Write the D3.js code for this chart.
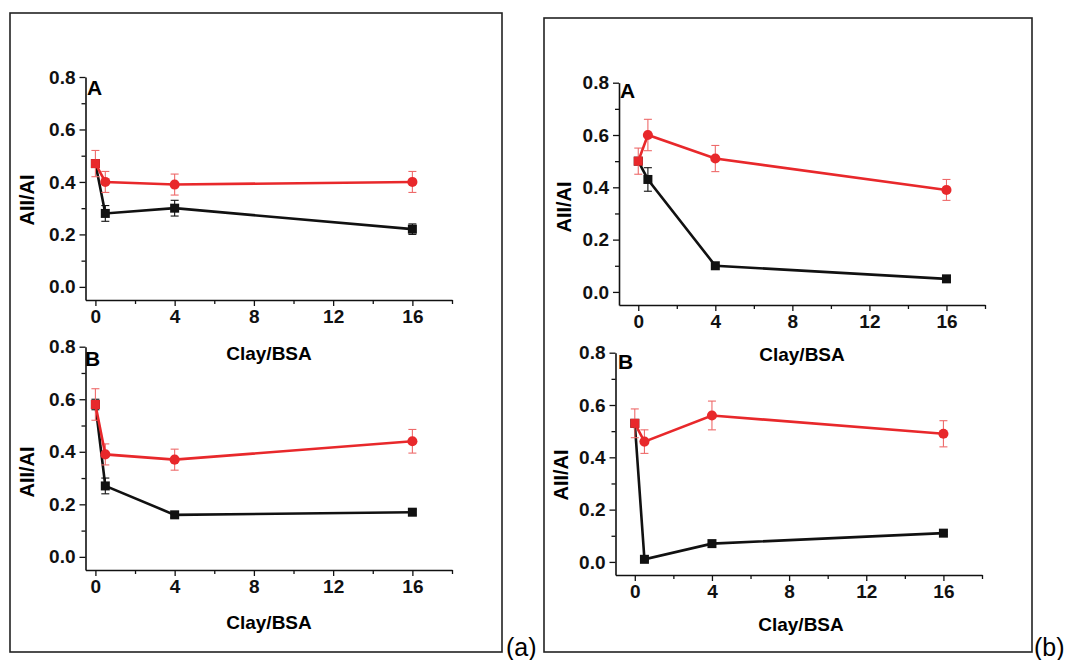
<!DOCTYPE html>
<html>
<head>
<meta charset="utf-8">
<script src="https://cdn.jsdelivr.net/npm/d3@7"></script>
<style>
  html, body { margin: 0; padding: 0; background: #fff; }
  svg text { font-family: "Liberation Sans", Arial, sans-serif; }
</style>
</head>
<body>
<svg id="chart" width="1069" height="660"></svg>
<script>
// Clay/BSA ratios
var ratios = [0, 0.5, 4, 16];

// (a) panel A
var aA_black = [0.47, 0.28, 0.30, 0.22];
var aA_black_err = [0.01, 0.03, 0.03, 0.02];
var aA_red = [0.47, 0.40, 0.39, 0.40];
var aA_red_err = [0.05, 0.04, 0.04, 0.04];

// (a) panel B
var aB_black = [0.58, 0.27, 0.16, 0.17];
var aB_black_err = [0.02, 0.03, 0.01, 0.01];
var aB_red = [0.58, 0.39, 0.37, 0.44];
var aB_red_err = [0.06, 0.04, 0.04, 0.045];

// (b) panel A
var bA_black = [0.50, 0.43, 0.10, 0.05];
var bA_black_err = [0.01, 0.045, 0.005, 0.005];
var bA_red = [0.50, 0.60, 0.51, 0.39];
var bA_red_err = [0.05, 0.06, 0.05, 0.04];

// (b) panel B
var bB_black = [0.53, 0.01, 0.07, 0.11];
var bB_black_err = [0.01, 0.005, 0.005, 0.005];
var bB_red = [0.53, 0.46, 0.56, 0.49];
var bB_red_err = [0.055, 0.045, 0.055, 0.05];

var xTicks = [0, 4, 8, 12, 16];
var xMinor = [2, 6, 10, 14, 18];
var yTicks = [0.0, 0.2, 0.4, 0.6, 0.8];
var yMinor = [0.1, 0.3, 0.5, 0.7];

var RED = "#e8282b";
var RED_ERR = "#ee6a6a";

var svg = d3.select("#chart");

// outer frames
svg.append("rect")
    .attr("x", 10).attr("y", 13)
    .attr("width", 492).attr("height", 639)
    .attr("fill", "none").attr("stroke", "#222").attr("stroke-width", 1.6);
svg.append("rect")
    .attr("x", 544).attr("y", 18)
    .attr("width", 488).attr("height", 634)
    .attr("fill", "none").attr("stroke", "#222").attr("stroke-width", 1.6);

svg.append("text").attr("x", 506).attr("y", 656)
    .attr("font-size", 25).text("(a)");
svg.append("text").attr("x", 1034).attr("y", 656)
    .attr("font-size", 25).text("(b)");

var panels = [
    { tag: "A", black: aA_black, blackErr: aA_black_err, red: aA_red, redErr: aA_red_err,
      xr: [85.5, 452], yr: [300, 77], xmin: -0.5, ylab: [29, 200], title: [269, 360], tag_pos: [87, 95] },
    { tag: "B", black: aB_black, blackErr: aB_black_err, red: aB_red, redErr: aB_red_err,
      xr: [85.5, 452], yr: [570, 346.7], xmin: -0.5, ylab: [29, 472], title: [269, 629], tag_pos: [85, 366] },
    { tag: "A", black: bA_black, blackErr: bA_black_err, red: bA_red, redErr: bA_red_err,
      xr: [619, 985], yr: [305, 82.7], xmin: -1, ylab: [566, 207], title: [802, 361], tag_pos: [620, 98] },
    { tag: "B", black: bB_black, blackErr: bB_black_err, red: bB_red, redErr: bB_red_err,
      xr: [615.5, 982], yr: [575, 352.7], xmin: -1, ylab: [563, 475], title: [801, 631], tag_pos: [618, 369] }
];

panels.forEach(function (p) {
    var x = d3.scaleLinear().domain([p.xmin, 18]).range(p.xr);
    var y = d3.scaleLinear().domain([-0.05, 0.8]).range(p.yr);
    var g = svg.append("g");

    // axes
    g.append("g")
        .attr("transform", "translate(0," + p.yr[0] + ")")
        .call(d3.axisBottom(x).tickValues(xTicks).tickSize(6).tickPadding(4)
            .tickSizeOuter(0).tickFormat(d3.format("d")));
    g.append("g")
        .attr("transform", "translate(0," + p.yr[0] + ")")
        .call(d3.axisBottom(x).tickValues(xMinor).tickSize(4).tickSizeOuter(0).tickFormat(""))
        .select(".domain").remove();

    g.append("g")
        .attr("transform", "translate(" + p.xr[0] + ",0)")
        .call(d3.axisLeft(y).tickValues(yTicks).tickSize(6).tickPadding(4)
            .tickSizeOuter(0).tickFormat(d3.format(".1f")));
    g.append("g")
        .attr("transform", "translate(" + p.xr[0] + ",0)")
        .call(d3.axisLeft(y).tickValues(yMinor).tickSize(4).tickSizeOuter(0).tickFormat(""))
        .select(".domain").remove();

    g.selectAll(".domain").attr("stroke", "#111").attr("stroke-width", 1.6);
    g.selectAll(".tick line").attr("stroke", "#111").attr("stroke-width", 1.3);
    g.selectAll(".tick text")
        .attr("font-size", 19).attr("font-weight", "bold").attr("fill", "#111");

    // labels
    g.append("text")
        .attr("transform", "translate(" + p.ylab[0] + "," + p.ylab[1] + ") rotate(-90)")
        .attr("text-anchor", "middle").attr("dominant-baseline", "middle")
        .attr("font-size", 20).attr("font-weight", "bold").text("AII/AI");
    g.append("text")
        .attr("x", p.title[0]).attr("y", p.title[1])
        .attr("text-anchor", "middle")
        .attr("font-size", 19).attr("font-weight", "bold").text("Clay/BSA");
    g.append("text")
        .attr("x", p.tag_pos[0]).attr("y", p.tag_pos[1])
        .attr("font-size", 21).attr("font-weight", "bold").text(p.tag);

    var line = d3.line()
        .x(function (d, i) { return x(ratios[i]); })
        .y(function (d) { return y(d); });

    function errorBars(vals, errs, color) {
        var eb = g.append("g").attr("stroke", color).attr("stroke-width", 1.1);
        vals.forEach(function (v, i) {
            var cx = x(ratios[i]);
            eb.append("line").attr("x1", cx).attr("x2", cx)
                .attr("y1", y(v - errs[i])).attr("y2", y(v + errs[i]));
            [v - errs[i], v + errs[i]].forEach(function (e) {
                eb.append("line").attr("x1", cx - 4).attr("x2", cx + 4)
                    .attr("y1", y(e)).attr("y2", y(e));
            });
        });
    }

    // black series
    errorBars(p.black, p.blackErr, "#111");
    g.append("path").datum(p.black)
        .attr("d", line).attr("fill", "none")
        .attr("stroke", "#111").attr("stroke-width", 2.6);
    g.selectAll(".sq").data(p.black).enter().append("rect")
        .attr("x", function (d, i) { return x(ratios[i]) - 4.5; })
        .attr("y", function (d) { return y(d) - 4.5; })
        .attr("width", 9).attr("height", 9)
        .attr("fill", "#111");

    // red series
    errorBars(p.red, p.redErr, RED_ERR);
    g.append("path").datum(p.red)
        .attr("d", line).attr("fill", "none")
        .attr("stroke", RED).attr("stroke-width", 2.6);
    g.selectAll(".dot").data(p.red).enter().append("path")
        .attr("transform", function (d, i) {
            return "translate(" + x(ratios[i]) + "," + y(d) + ")";
        })
        .attr("d", function (d, i) {
            // shared control point at 0 shows as a square
            return d3.symbol().type(i === 0 ? d3.symbolSquare : d3.symbolCircle)
                .size(i === 0 ? 81 : 80)();
        })
        .attr("fill", RED);
});
</script>
</body>
</html>
